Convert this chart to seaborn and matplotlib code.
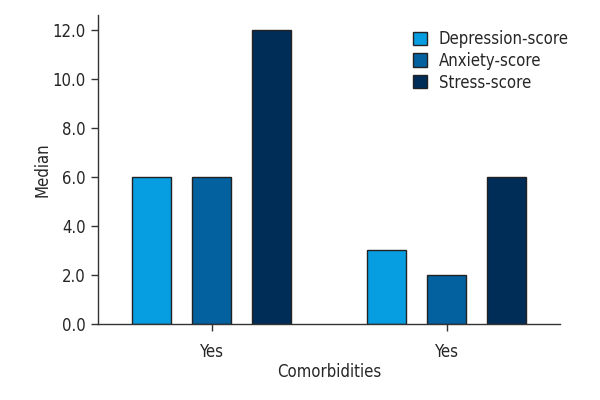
import pandas as pd
import seaborn as sns
import matplotlib.pyplot as plt
import numpy as np

# data
groups = ["Yes", "Yes "]
scores = ["Depression-score", "Anxiety-score", "Stress-score"]
depression = [6.0, 3.0]
anxiety = [6.0, 2.0]
stress = [12.0, 6.0]
colors = ["#069ee0", "#02619e", "#002c58"]

df = pd.DataFrame({
    "group": groups * 3,
    "score": np.repeat(scores, len(groups)),
    "median": depression + anxiety + stress,
})

sns.set_style("white")
plt.rcParams["font.family"] = ["DejaVu Sans"]
plt.rcParams["font.stretch"] = "condensed"

fig = plt.figure(figsize=(6, 4), dpi=100)
ax = fig.add_axes([0.163, 0.19, 0.77, 0.772])

sns.barplot(data=df, x="group", y="median", hue="score",
            palette=colors, saturation=1, width=0.766, gap=0.35,
            edgecolor="#222222", linewidth=1.0, ax=ax)

ax.set_xlim(-0.485, 1.48)
ax.set_ylim(0, 12.6)
ax.set_yticks(np.arange(0, 13, 2))
ax.set_yticklabels([f"{v:.1f}" for v in np.arange(0, 13, 2)], fontsize=12)
ax.set_xticks([0, 1])
ax.set_xticklabels(["Yes", "Yes"], fontsize=12)
ax.tick_params(axis="both", direction="out", length=5, width=1, color="#333333", left=True, bottom=True)
ax.tick_params(axis="x", pad=9)
ax.set_xlabel("Comorbidities", fontsize=12, labelpad=1)
ax.set_ylabel("Median", fontsize=12, labelpad=1)

sns.despine(ax=ax)
for s in ["left", "bottom"]:
    ax.spines[s].set_color("#333333")
    ax.spines[s].set_linewidth(1)

leg = ax.legend(loc="upper right", bbox_to_anchor=(1.052, 1.0), frameon=False,
                fontsize=12, handlelength=0.85, handleheight=0.85,
                handletextpad=0.7, labelspacing=0.22)
for h in leg.legend_handles:
    h.set_edgecolor("#222222")

plt.savefig("out.png", dpi=100)
